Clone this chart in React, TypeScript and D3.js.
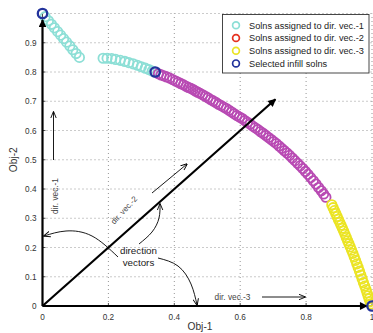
import React from "react";
import * as d3 from "d3";

const W = 373;
const H = 333;

// Solutions assigned to direction vector 1 (two groups along the front)
const vec1X = [0.008, 0.018, 0.027, 0.036, 0.046, 0.055, 0.064, 0.073, 0.083, 0.092, 0.102, 0.112,
  0.184, 0.196, 0.21, 0.222, 0.236, 0.25, 0.262, 0.275, 0.288, 0.3, 0.312, 0.323, 0.333];
const vec1Y = [0.989, 0.975, 0.963, 0.951, 0.938, 0.926, 0.914, 0.902, 0.889, 0.876, 0.863, 0.85,
  0.847, 0.847, 0.846, 0.843, 0.84, 0.836, 0.832, 0.828, 0.823, 0.818, 0.813, 0.808, 0.803];

// Solutions assigned to direction vector 2
const vec2X = [0.352, 0.36, 0.368, 0.377, 0.386, 0.395, 0.404, 0.412, 0.42, 0.428, 0.436, 0.443, 0.45,
  0.457, 0.464, 0.471, 0.478, 0.486, 0.494, 0.502, 0.51, 0.518, 0.526, 0.534, 0.542, 0.55, 0.558,
  0.566, 0.574, 0.582, 0.59, 0.598, 0.606, 0.614, 0.622, 0.63, 0.638, 0.646, 0.654, 0.662, 0.67,
  0.678, 0.686, 0.694, 0.702, 0.71, 0.718, 0.726, 0.734, 0.742, 0.75, 0.758, 0.766, 0.774, 0.782,
  0.79, 0.798, 0.806, 0.814, 0.822, 0.83, 0.838, 0.846, 0.853, 0.86];
const vec2Y = [0.794, 0.79, 0.787, 0.783, 0.779, 0.774, 0.769, 0.765, 0.76, 0.756, 0.751, 0.747, 0.744,
  0.74, 0.735, 0.731, 0.727, 0.722, 0.717, 0.712, 0.706, 0.701, 0.696, 0.69, 0.685, 0.68, 0.675,
  0.669, 0.663, 0.657, 0.651, 0.646, 0.641, 0.634, 0.628, 0.622, 0.615, 0.609, 0.603, 0.596, 0.59,
  0.583, 0.576, 0.569, 0.562, 0.555, 0.547, 0.539, 0.531, 0.523, 0.515, 0.506, 0.497, 0.488, 0.479,
  0.47, 0.46, 0.45, 0.439, 0.428, 0.417, 0.405, 0.394, 0.383, 0.372];

// Solutions assigned to direction vector 3
const vec3X = [0.878, 0.882, 0.886, 0.89, 0.894, 0.898, 0.902, 0.906, 0.91, 0.914, 0.918, 0.922, 0.926,
  0.93, 0.934, 0.938, 0.942, 0.946, 0.95, 0.954, 0.958, 0.962, 0.966, 0.97, 0.974, 0.978, 0.982,
  0.985, 0.988, 0.991, 0.994, 0.996];
const vec3Y = [0.346, 0.336, 0.326, 0.316, 0.306, 0.296, 0.286, 0.276, 0.266, 0.256, 0.245, 0.234, 0.223,
  0.213, 0.202, 0.191, 0.18, 0.168, 0.156, 0.144, 0.132, 0.119, 0.106, 0.093, 0.08, 0.068, 0.056,
  0.045, 0.035, 0.025, 0.015, 0.007];

// Selected infill solutions
const selX = [0, 0.342, 1];
const selY = [1, 0.8, 0];

// Direction vectors drawn from the origin
const dirEndX = [0, 0.707, 0.985];
const dirEndY = [0.978, 0.707, 0];

const xTicks = [0, 0.2, 0.4, 0.6, 0.8, 1];
const yTicks = [0, 0.1, 0.2, 0.3, 0.4, 0.5, 0.6, 0.7, 0.8, 0.9];
const gridX = [0.2, 0.4, 0.6, 0.8, 1];
const gridY = [0.1, 0.2, 0.3, 0.4, 0.5, 0.6, 0.7, 0.8, 0.9, 1];

const legendLabels = [
  "Solns assigned to dir. vec.-1",
  "Solns assigned to dir. vec.-2",
  "Solns assigned to dir. vec.-3",
  "Selected infill solns",
];

const C1 = "#8ddfd6";
const C2 = "#b84ab3";
const C3 = "#ebe424";
const CSEL = "#23339c";
const legendColors = [C1, "#e6321f", C3, CSEL];

const FONT = "'Liberation Sans', Arial, Helvetica, sans-serif";

export default function App() {
  const x = d3.scaleLinear().domain([0, 1]).range([42.5, 372]);
  const y = d3.scaleLinear().domain([0, 1]).range([306, 13.5]);

  const zip = (xs: number[], ys: number[]) => xs.map((v, i) => [v, ys[i]] as [number, number]);

  const circles = (pts: [number, number][], color: string, sw: number, key: string) =>
    pts.map((p, i) => (
      <circle key={key + i} cx={x(p[0])} cy={y(p[1])} r={4.7} fill="none" stroke={color} strokeWidth={sw} />
    ));

  const curve = d3.line().curve(d3.curveNatural);

  return (
    <div style={{ position: "absolute", left: 0, top: 0 }}>
      <svg width={W} height={H} style={{ display: "block", background: "#fff" }}>
        <defs>
          <marker id="bigHead" viewBox="0 0 10 10" refX="9" refY="5" markerWidth="4.2" markerHeight="3.6"
            orient="auto" markerUnits="strokeWidth">
            <path d="M0,0 L10,5 L0,10 Z" fill="#000" />
          </marker>
          <marker id="smallHead" viewBox="0 0 10 10" refX="9" refY="5" markerWidth="7" markerHeight="7"
            orient="auto" markerUnits="userSpaceOnUse">
            <path d="M0,1 L10,5 L0,9" fill="none" stroke="#000" strokeWidth={1.3} />
          </marker>
        </defs>

        {/* grid */}
        <g stroke="#8a8a8a" strokeWidth={0.9} strokeDasharray="1 3">
          {gridX.map((v) => (
            <line key={"gx" + v} x1={x(v)} x2={x(v)} y1={y(0)} y2={y(1)} />
          ))}
          {gridY.map((v) => (
            <line key={"gy" + v} x1={x(0)} x2={x(1)} y1={y(v)} y2={y(v)} />
          ))}
        </g>

        {/* axis lines and ticks */}
        <g stroke="#222" strokeWidth={0.8}>
          <line x1={x(0)} x2={x(1)} y1={y(0)} y2={y(0)} />
          <line x1={x(0)} x2={x(0)} y1={y(0)} y2={y(1)} />
          {xTicks.map((v) => (
            <line key={"xt" + v} x1={x(v)} x2={x(v)} y1={y(0)} y2={y(0) - 3} />
          ))}
          {yTicks.map((v) => (
            <line key={"yt" + v} x1={x(0)} x2={x(0) + 3} y1={y(v)} y2={y(v)} />
          ))}
        </g>
        <g fontFamily={FONT} fontSize={8.2} fill="#333">
          {xTicks.map((v) => (
            <text key={"xl" + v} x={x(v)} y={319.5} textAnchor="middle">
              {d3.format("")(v)}
            </text>
          ))}
          {yTicks.map((v) => (
            <text key={"yl" + v} x={36.5} y={y(v) + 3} textAnchor="end">
              {d3.format("")(v)}
            </text>
          ))}
        </g>
        <text x={200} y={330} textAnchor="middle" fontFamily={FONT} fontSize={10.2} fill="#333">
          Obj-1
        </text>
        <text transform={`translate(16.5,${y(0.5)}) rotate(-90)`} textAnchor="middle" fontFamily={FONT}
          fontSize={10.2} fill="#333">
          Obj-2
        </text>

        {/* solutions */}
        {circles(zip(vec1X, vec1Y), C1, 1.8, "a")}
        {circles(zip(vec2X, vec2Y), C2, 1.8, "b")}
        {circles(zip(vec3X, vec3Y), C3, 1.8, "c")}

        {/* direction vectors */}
        {dirEndX.map((v, i) => (
          <line key={"dv" + i} x1={x(0)} y1={y(0)} x2={x(v)} y2={y(dirEndY[i])} stroke="#000" strokeWidth={2.2}
            markerEnd="url(#bigHead)" />
        ))}

        {circles(zip(selX, selY), CSEL, 2.3, "s")}

        {/* annotations */}
        <g stroke="#000" strokeWidth={0.9} fill="none">
          <line x1={53.5} y1={160} x2={53.5} y2={112} markerEnd="url(#smallHead)" />
          <line x1={152} y1={193} x2={187} y2={164} markerEnd="url(#smallHead)" />
          <line x1={262} y1={297} x2={305} y2={297} markerEnd="url(#smallHead)" />
          <path d={curve([[118, 257], [92, 236], [66, 231], [44, 236]]) || ""} markerEnd="url(#smallHead)" />
          <path d={curve([[139, 244], [152, 232], [159, 218], [160, 204]]) || ""} markerEnd="url(#smallHead)" />
          <path d={curve([[158, 258], [178, 266], [191, 284], [197, 305]]) || ""} markerEnd="url(#smallHead)" />
        </g>
        <g fontFamily={FONT} fill="#444">
          <text transform="translate(57.5,196) rotate(-90)" textAnchor="middle" fontSize={8.3}>
            dir. vec.-1
          </text>
          <text transform="translate(126,212) rotate(-47)" textAnchor="middle" fontSize={8}>
            dir. vec.-2
          </text>
          <text x={232.5} y={300} textAnchor="middle" fontSize={8.3}>
            dir. vec.-3
          </text>
        </g>
        <g fontFamily={FONT} fill="#222" fontSize={9.8}>
          <text x={138.5} y={253.5} textAnchor="middle">direction</text>
          <text x={138.5} y={266} textAnchor="middle">vectors</text>
        </g>

        {/* legend */}
        <rect x={222.5} y={14.5} width={146.5} height={58.5} fill="#fff" stroke="#333" strokeWidth={0.9} />
        {legendLabels.map((t, i) => (
          <g key={"lg" + i}>
            <circle cx={236} cy={25.3 + i * 12.7} r={3.4} fill="none" stroke={legendColors[i]} strokeWidth={1.7} />
            <text x={249} y={28.6 + i * 12.7} fontFamily={FONT} fontSize={9.2} fill="#222">
              {t}
            </text>
          </g>
        ))}
      </svg>
    </div>
  );
}
